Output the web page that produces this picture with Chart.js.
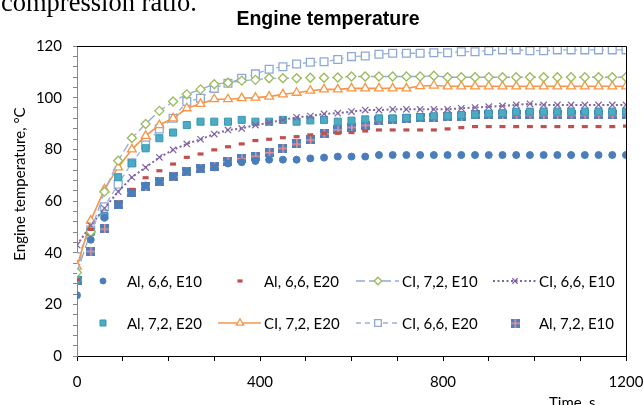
<!DOCTYPE html>
<html>
<head>
<meta charset="utf-8">
<script src="https://cdn.jsdelivr.net/npm/chart.js@4.4.0/dist/chart.umd.min.js"></script>
<style>
    html, body { margin: 0; padding: 0; background: #fff; }
    #wrap { width: 643px; height: 405px; overflow: hidden; }
</style>
</head>
<body>
<div id="wrap"><canvas id="tempChart" width="643" height="405"></canvas></div>
<script>
// time axis, s
const times = [0, 30, 60, 90, 120, 150, 180, 210, 240, 270, 300, 330, 360, 390, 420, 450, 480, 510, 540, 570, 600,
    630, 660, 690, 720, 750, 780, 810, 840, 870, 900, 930, 960, 990, 1020, 1050, 1080, 1110, 1140, 1170, 1200];

// engine temperature, °C
const al66e10 = [23.5, 45, 53.5, 58.5, 63, 66, 67.5, 69.5, 71.5, 72.5, 73, 74.5, 75, 75.5, 76, 76, 76, 76.5, 76.8, 77.2, 77.2,
    77.2, 77.8, 77.8, 77.8, 77.8, 77.8, 77.8, 77.8, 77.8, 77.8, 77.8, 77.8, 77.8, 77.8, 77.8, 77.8, 77.8, 77.8, 77.8, 77.8];
const al66e20 = [29.5, 49, 54, 59.5, 64.5, 69, 71.7, 74.3, 76.9, 78.2, 79.8, 81, 82.1, 83.4, 83.9, 84.5, 84.9, 85.6, 86.2, 86.2, 86.5,
    87.1, 87.5, 87.5, 87.5, 87.5, 87.5, 87.9, 88.4, 88.8, 88.8, 88.8, 88.8, 88.8, 88.8, 88.8, 88.8, 88.8, 88.8, 88.8, 89];
const ci72e10 = [32.3, 48.1, 63.6, 75.6, 84.4, 89.8, 94.9, 98.5, 101.3, 103.2, 105.2, 105.8, 106.6, 106.9, 107.5, 107.5, 107.5, 107.7, 107.7, 107.8, 108.2,
    108.2, 108.2, 108.2, 108.2, 108.2, 108.5, 107.9, 107.9, 107.9, 107.9, 107.9, 107.9, 107.9, 107.9, 107.9, 107.9, 107.9, 107.9, 107.9, 107.9];
const ci66e10 = [43, 50.5, 57.2, 63.6, 69.2, 73, 76.9, 79.8, 82.1, 83.9, 85.9, 87.5, 88.1, 89.4, 90.3, 91.4, 92.4, 92.9, 93.7, 94, 94.6,
    95.2, 95.2, 95.5, 95.5, 95.5, 95.5, 95.5, 95.9, 96.2, 96.5, 96.8, 97.2, 97.6, 97.2, 97.2, 97.2, 97.2, 97.2, 97.2, 97.2];
const al72e20 = [29.5, 48, 54.2, 69.2, 74.6, 80.4, 84.3, 86.5, 89.4, 90.7, 90.7, 90.7, 91.4, 90.7, 90.7, 91.4, 90.7, 91.2, 91.4, 90.7, 91.1,
    91.6, 92, 92, 92.2, 92.5, 92.8, 93, 93.3, 93.5, 93.8, 94, 94.5, 94.6, 94.6, 94.6, 94.6, 94.6, 94.6, 94.6, 94.6];
const ci72e20 = [34.6, 52.4, 64.5, 73, 80, 85.2, 89.4, 92, 95.9, 97.6, 99.4, 99.4, 99.8, 100, 100.4, 101.3, 101.9, 102.7, 103.2, 103.2, 103.6,
    103.6, 103.6, 103.6, 103.6, 104.5, 104.7, 104.4, 104.4, 104.4, 104.4, 104.4, 104.4, 104.4, 104.4, 104.4, 104.4, 104.4, 104.4, 104.4, 104.4];
const ci66e20 = [38.4, 48.8, 57.8, 66.5, 74.8, 81.7, 87.9, 92, 98.5, 99.8, 103.6, 105.6, 107.5, 109.2, 111, 112, 113, 113.7, 113.9, 114.8, 115.9,
    116.1, 116.8, 117.2, 117.2, 117.2, 117.4, 117.4, 117.8, 117.8, 118.2, 118.5, 118.5, 118.2, 118.2, 118.5, 118.5, 118.5, 118.5, 118.5, 118.5];
const al72e10 = [29.4, 40.6, 49.2, 58.5, 63.2, 65.8, 67.5, 69.4, 71.4, 72.5, 73.3, 75.2, 76.5, 77.4, 78.8, 80.5, 82.1, 83.7, 86.1, 87.6, 88.6,
    89.4, 91.1, 91.6, 92, 92.4, 92.4, 92.9, 92.9, 93.3, 93.3, 93.3, 93.3, 93.3, 93.3, 93.3, 93.3, 93.3, 93.3, 93.3, 93.3];

const seriesNames = ['Al, 6,6, E10', 'Al, 6,6, E20', 'CI, 7,2, E10', 'CI, 6,6, E10',
    'Al, 7,2, E20', 'CI, 7,2, E20', 'CI, 6,6, E20', 'Al, 7,2, E10'];

const xTickLabels = [0, 400, 800, 1200];
const yTickLabels = [0, 20, 40, 60, 80, 100, 120];

// blue square with a pink cross, used for the last series
function crossSquare() {
    const c = document.createElement('canvas');
    c.width = 9;
    c.height = 9;
    const g = c.getContext('2d');
    g.fillStyle = '#4F7FC0';
    g.fillRect(0, 0, 9, 9);
    g.fillStyle = '#E9938F';
    g.fillRect(4, 0, 1.5, 9);
    g.fillRect(0, 4, 9, 1.5);
    return c;
}

function points(values) {
    return times.map((t, i) => ({ x: t, y: values[i] }));
}

const datasets = [
    { label: seriesNames[0], data: points(al66e10), showLine: false, pointStyle: 'circle', pointRadius: 3.5,
      pointBackgroundColor: '#4A7EBB', pointBorderColor: '#4A7EBB', pointBorderWidth: 1 },
    { label: seriesNames[1], data: points(al66e20), showLine: false, pointStyle: 'line', pointRadius: 3,
      pointBackgroundColor: '#C0504D', pointBorderColor: '#C0504D', pointBorderWidth: 3.2 },
    { label: seriesNames[2], data: points(ci72e10), showLine: true, borderColor: '#8FAADC', borderWidth: 1.3, borderDash: [9, 4],
      pointStyle: 'rectRot', pointRadius: 4.5, pointBackgroundColor: '#fff', pointBorderColor: '#9BBB59', pointBorderWidth: 1.3 },
    { label: seriesNames[3], data: points(ci66e10), showLine: true, borderColor: '#8064A2', borderWidth: 2, borderDash: [2, 2.5],
      pointStyle: 'crossRot', pointRadius: 4.5, pointBackgroundColor: '#8064A2', pointBorderColor: '#8064A2', pointBorderWidth: 1.2 },
    { label: seriesNames[4], data: points(al72e20), showLine: false, pointStyle: 'rect', pointRadius: 5,
      pointBackgroundColor: '#4BACC6', pointBorderColor: '#3C95B0', pointBorderWidth: 1 },
    { label: seriesNames[5], data: points(ci72e20), showLine: true, borderColor: '#F79646', borderWidth: 1.6,
      pointStyle: 'triangle', pointRadius: 5, pointBackgroundColor: '#fff', pointBorderColor: '#F79646', pointBorderWidth: 1.3 },
    { label: seriesNames[6], data: points(ci66e20), showLine: true, borderColor: '#95B3D7', borderWidth: 1.3, borderDash: [5, 4],
      pointStyle: 'rect', pointRadius: 5.5, pointBackgroundColor: '#fff', pointBorderColor: '#8EA9D6', pointBorderWidth: 1.3 },
    { label: seriesNames[7], data: points(al72e10), showLine: false, pointStyle: crossSquare(), pointRadius: 4.5,
      pointBackgroundColor: '#4F7FC0', pointBorderColor: '#4F7FC0', pointBorderWidth: 0 }
];

// legend inside the plot: text start of each column, centre line of each row
const legendCols = [127, 264, 402, 539];
const legendRows = [281, 323];

const decorPlugin = {
    id: 'decor',
    afterDraw(chart) {
        const ctx = chart.ctx;
        const area = chart.chartArea;
        ctx.save();

        // top and right frame of the plot
        ctx.strokeStyle = '#000';
        ctx.lineWidth = 1;
        ctx.beginPath();
        ctx.moveTo(area.left, Math.round(area.top) + 0.5);
        ctx.lineTo(Math.round(area.right) + 0.5, Math.round(area.top) + 0.5);
        ctx.lineTo(Math.round(area.right) + 0.5, area.bottom);
        ctx.stroke();

        // page text cut off above the figure
        ctx.fillStyle = '#000';
        ctx.font = '26.5px "Liberation Serif"';
        ctx.textAlign = 'left';
        ctx.textBaseline = 'alphabetic';
        ctx.fillText('compression ratio.', 1, 11);

        // title
        ctx.font = 'bold 19.5px "Liberation Sans"';
        ctx.textAlign = 'center';
        ctx.fillText('Engine temperature', 328, 25);

        // axis titles
        ctx.font = '15px Lato';
        ctx.textAlign = 'left';
        ctx.textBaseline = 'top';
        ctx.fillText('Time, s', 549, 396);
        ctx.save();
        ctx.translate(20, 184);
        ctx.rotate(-Math.PI / 2);
        ctx.textAlign = 'center';
        ctx.textBaseline = 'middle';
        ctx.fillText('Engine temperature, °C', 0, 0);
        ctx.restore();

        // legend
        chart.data.datasets.forEach((ds, i) => {
            const tx = legendCols[i % 4];
            const y = legendRows[Math.floor(i / 4)];
            if (ds.showLine) {
                ctx.strokeStyle = ds.borderColor;
                ctx.lineWidth = ds.borderWidth;
                ctx.setLineDash(ds.borderDash || []);
                ctx.beginPath();
                ctx.moveTo(tx - 46, y);
                ctx.lineTo(tx - 3, y);
                ctx.stroke();
            }
            ctx.setLineDash([]);
            ctx.fillStyle = ds.pointBackgroundColor;
            ctx.strokeStyle = ds.pointBorderColor;
            ctx.lineWidth = ds.pointBorderWidth;
            Chart.helpers.drawPoint(ctx, {
                pointStyle: ds.pointStyle,
                radius: ds.pointRadius * 0.85,
                borderWidth: ds.pointBorderWidth,
                rotation: 0
            }, tx - 24, y);
            ctx.fillStyle = '#000';
            ctx.font = '15px Lato';
            ctx.textAlign = 'left';
            ctx.textBaseline = 'middle';
            ctx.fillText(ds.label, tx, y + 1);
        });

        ctx.restore();
    }
};

Chart.defaults.font.family = 'Lato';
Chart.defaults.font.size = 15;
Chart.defaults.color = '#000';

new Chart(document.getElementById('tempChart').getContext('2d'), {
    type: 'line',
    data: { datasets: datasets },
    options: {
        responsive: false,
        animation: false,
        events: [],
        elements: { line: { tension: 0, fill: false } },
        layout: { padding: { top: 46, right: 17, bottom: 0, left: 0 } },
        plugins: {
            legend: { display: false },
            title: { display: false },
            tooltip: { enabled: false }
        },
        scales: {
            x: {
                type: 'linear',
                min: 0,
                max: 1200,
                ticks: {
                    stepSize: 100,
                    autoSkip: false,
                    maxRotation: 0,
                    padding: 12,
                    callback: v => xTickLabels.includes(v) ? String(v) : ''
                },
                grid: { drawOnChartArea: false, tickLength: 5, color: '#000' },
                border: { color: '#000', width: 1 },
                afterFit: scale => {
                    scale.height = 49;
                    scale.paddingLeft = 0;
                    scale.paddingRight = 0;
                }
            },
            y: {
                min: 0,
                max: 120,
                ticks: {
                    stepSize: 4,
                    autoSkip: false,
                    padding: 11,
                    callback: v => yTickLabels.includes(v) ? String(v) : ''
                },
                grid: { drawOnChartArea: false, tickLength: 4, color: '#868686' },
                border: { color: '#868686', width: 1 },
                afterFit: scale => {
                    scale.width = 77;
                    scale.paddingTop = 0;
                    scale.paddingBottom = 0;
                }
            }
        }
    },
    plugins: [decorPlugin]
});
</script>
</body>
</html>
